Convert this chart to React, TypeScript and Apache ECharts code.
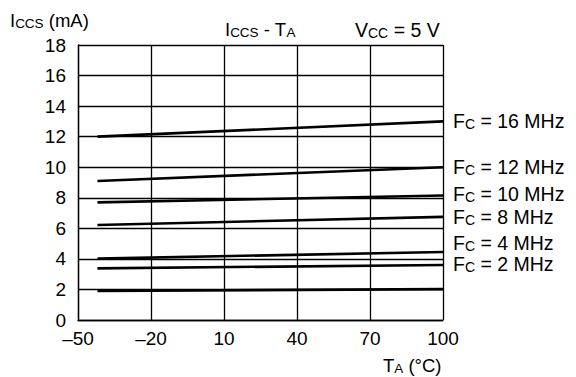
import React, { useEffect, useRef } from "react";
import * as echarts from "echarts";

// Temperature range of each measured curve (°C)
const tempStart = -42;
const tempEnd = 100;

// Supply current Iccs (mA) at start / end temperature, per clock frequency
const fc16 = [12.0, 13.0];
const fc12 = [9.1, 10.0];
const fc10 = [7.7, 8.15];
const fc8 = [6.22, 6.75];
const fc4 = [4.02, 4.45];
const fc2 = [3.38, 3.6];
const fcLow = [1.9, 2.02];

const seriesNames = ["16 MHz", "12 MHz", "10 MHz", "8 MHz", "4 MHz", "2 MHz", ""];
const seriesValues = [fc16, fc12, fc10, fc8, fc4, fc2, fcLow];
const labelShiftY = [0, 0, -1, 0, -9, -1, 0];

const xTicks = { min: -50, max: 100, interval: 30 };
const yTicks = { min: 0, max: 18, interval: 2 };

const FONT = "'Liberation Sans', Arial, Helvetica, sans-serif";
const BIG = 18.5;
const SMALL = 13.5;

const rich = {
  b: { fontFamily: FONT, fontSize: BIG, lineHeight: BIG, color: "#000", verticalAlign: "bottom" },
  s: { fontFamily: FONT, fontSize: SMALL, lineHeight: SMALL, color: "#000", verticalAlign: "bottom" },
};
const richWide = {
  b: { ...rich.b, fontSize: 19.5, lineHeight: 19.5 },
  s: { ...rich.s, fontSize: 14, lineHeight: 14 },
};

const dash = (v: number) => (v < 0 ? "\u2013" + Math.abs(v) : String(v));

export default function App() {
  const ref = useRef<HTMLDivElement>(null);
  useEffect(() => {
    if (!ref.current) return;
    const chart = echarts.init(ref.current, null, { renderer: "svg" });
    const series = seriesValues.map((vals, i) => ({
      type: "line",
      name: seriesNames[i] || "Fc",
      data: [
        [tempStart, vals[0]],
        [tempEnd, vals[1]],
      ],
      showSymbol: false,
      symbol: "none",
      lineStyle: { color: "#000", width: 2.6 },
      endLabel: seriesNames[i]
        ? {
            show: true,
            distance: 10,
            offset: [0, labelShiftY[i]],
            formatter: "{b|F}{s|C}{b| = " + seriesNames[i] + "}",
            rich: richWide,
          }
        : { show: false },
      z: 3,
    }));
    chart.setOption({
      animation: false,
      backgroundColor: "#fff",
      grid: { left: 78, right: 133, top: 45, bottom: 57, containLabel: false },
      xAxis: {
        type: "value",
        min: xTicks.min,
        max: xTicks.max,
        interval: xTicks.interval,
        axisLine: { show: true, onZero: false, lineStyle: { color: "#000", width: 1.3 } },
        axisTick: { show: false },
        splitLine: { show: true, lineStyle: { color: "#000", width: 1.3 } },
        axisLabel: {
          formatter: dash,
          fontFamily: FONT,
          fontSize: 19,
          color: "#000",
          margin: 9,
        },
      },
      yAxis: {
        type: "value",
        min: yTicks.min,
        max: yTicks.max,
        interval: yTicks.interval,
        axisLine: { show: true, onZero: false, lineStyle: { color: "#000", width: 1.3 } },
        axisTick: { show: false },
        splitLine: { show: true, lineStyle: { color: "#000", width: 1.3 } },
        axisLabel: {
          fontFamily: FONT,
          fontSize: 19,
          color: "#000",
          margin: 12,
        },
      },
      graphic: [
        {
          type: "text",
          left: 10,
          top: 11,
          style: { text: "{b|I}{s|CCS}{b| (mA)}", rich },
        },
        {
          type: "text",
          left: 225,
          top: 20,
          style: { text: "{b|I}{s|CCS}{b| - T}{s|A}", rich },
        },
        {
          type: "text",
          left: 355,
          top: 20,
          style: { text: "{b|V}{s|CC}{b| = 5 V}", rich: richWide },
        },
        {
          type: "text",
          left: 383,
          top: 356,
          style: { text: "{b|T}{s|A}{b| (\u00B0C)}", rich },
        },
      ],
      series,
    });
    return () => chart.dispose();
  }, []);
  return (
    <div
      ref={ref}
      style={{ position: "fixed", left: 0, top: 0, width: 576, height: 377, background: "#fff" }}
    />
  );
}
